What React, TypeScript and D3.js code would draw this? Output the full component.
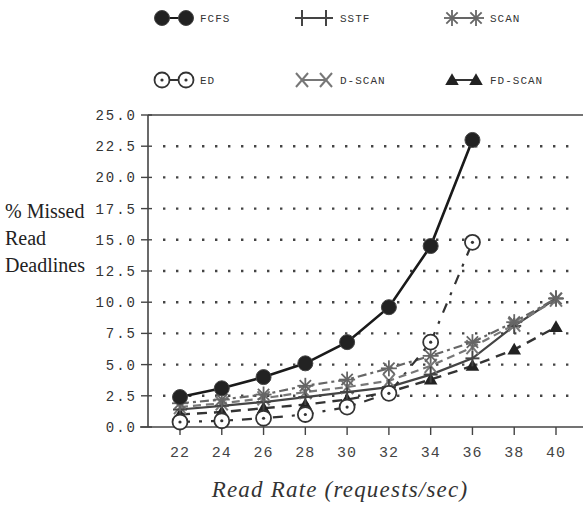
import React from "react";
import * as d3 from "d3";

const rates = [22, 24, 26, 28, 30, 32, 34, 36, 38, 40];
const yTicks = [0, 2.5, 5, 7.5, 10, 12.5, 15, 17.5, 20, 22.5, 25];

const fcfs = [2.4, 3.1, 4.0, 5.1, 6.8, 9.6, 14.5, 23.0];
const sstf = [1.4, 1.7, 2.0, 2.4, 2.8, 3.2, 4.2, 5.5, 8.1, 10.3];
const scan = [1.9, 2.2, 2.6, 3.3, 3.8, 4.7, 5.7, 6.8, 8.4, 10.3];
const ed = [0.4, 0.5, 0.7, 1.0, 1.6, 2.7, 6.8, 14.8];
const dscan = [1.6, 1.9, 2.3, 2.8, 3.2, 3.7, 4.9, 6.4, 8.2, 10.2];
const fdscan = [1.0, 1.2, 1.5, 1.8, 2.2, 2.8, 3.8, 4.9, 6.2, 8.0];

const seriesNames = ["FCFS", "SSTF", "SCAN", "ED", "D-SCAN", "FD-SCAN"];
const seriesValues = [fcfs, sstf, scan, ed, dscan, fdscan];

type Style = { color: string; width: number; dash: string; marker: string };
const styles: Style[] = [
  { color: "#1a1a1a", width: 2.6, dash: "", marker: "dot" },
  { color: "#444", width: 2.2, dash: "", marker: "plus" },
  { color: "#666", width: 2.2, dash: "9,4,3,4", marker: "star" },
  { color: "#333", width: 2.2, dash: "10,9,3,9", marker: "circle" },
  { color: "#777", width: 2.2, dash: "8,5", marker: "cross" },
  { color: "#333", width: 2.4, dash: "10,7", marker: "tri" },
];

function Marker({ kind, x, y, color }: { kind: string; x: number; y: number; color: string }) {
  if (kind === "dot") return <circle cx={x} cy={y} r={7.5} fill="#222" stroke="#444" strokeWidth={1} />;
  if (kind === "plus")
    return (
      <g stroke={color} strokeWidth={2}>
        <line x1={x - 7} x2={x + 7} y1={y} y2={y} />
        <line x1={x} x2={x} y1={y - 8} y2={y + 8} />
      </g>
    );
  if (kind === "star")
    return (
      <g stroke={color} strokeWidth={1.8}>
        {d3.range(4).map((i) => {
          const a = (i * Math.PI) / 4;
          return (
            <line key={i} x1={x - 8 * Math.cos(a)} x2={x + 8 * Math.cos(a)} y1={y - 8 * Math.sin(a)} y2={y + 8 * Math.sin(a)} />
          );
        })}
      </g>
    );
  if (kind === "circle")
    return (
      <g>
        <circle cx={x} cy={y} r={7.5} fill="white" stroke={color} strokeWidth={1.8} />
        <circle cx={x} cy={y} r={1.6} fill={color} />
      </g>
    );
  if (kind === "cross")
    return (
      <g stroke={color} strokeWidth={2}>
        <line x1={x - 6} x2={x + 6} y1={y - 7} y2={y + 7} />
        <line x1={x - 6} x2={x + 6} y1={y + 7} y2={y - 7} />
      </g>
    );
  const tri = d3.symbol(d3.symbolTriangle, 80)();
  return <path d={tri || ""} transform={`translate(${x},${y + 1})`} fill="#222" />;
}

export default function App() {
  const W = 583, H = 515;
  const x = d3.scaleLinear().domain([22, 40]).range([180, 556]);
  const y = d3.scaleLinear().domain([0, 25]).range([427, 115]);
  const mono = "'Liberation Mono', 'DejaVu Sans Mono', monospace";
  const serif = "'Liberation Serif', 'Times New Roman', serif";

  const legendPos = [
    [200, 18], [340, 18], [490, 18],
    [200, 80], [340, 80], [490, 80],
  ];

  return (
    <svg width={W} height={H} style={{ position: "absolute", left: 0, top: 0, background: "white" }}>
      {/* gridlines */}
      {yTicks.filter((t) => t > 0 && t < 25).map((t) => (
        <line key={t} x1={163} x2={578} y1={y(t)} y2={y(t)} stroke="#444" strokeWidth={2.4} strokeDasharray="2.4,10.6" />
      ))}
      {/* frame */}
      <line x1={148} x2={583} y1={y(25)} y2={y(25)} stroke="#444" strokeWidth={1.6} />
      <line x1={148} x2={148} y1={y(25)} y2={y(0)} stroke="#444" strokeWidth={1.6} />
      <line x1={140} x2={583} y1={y(0)} y2={y(0)} stroke="#444" strokeWidth={1.6} />
      {/* y ticks */}
      {yTicks.map((t) => (
        <g key={t}>
          <line x1={141} x2={152} y1={y(t)} y2={y(t)} stroke="#444" strokeWidth={1.4} />
          <text x={137} y={y(t)} dy="0.35em" textAnchor="end" fontFamily={mono} fontSize={14} letterSpacing={2} fill="#333">
            {t.toFixed(1)}
          </text>
        </g>
      ))}
      {/* x ticks */}
      {rates.map((r) => (
        <g key={r}>
          <line x1={x(r)} x2={x(r)} y1={y(0)} y2={y(0) + 8} stroke="#444" strokeWidth={1.4} />
          <text x={x(r)} y={452} dy="0.35em" textAnchor="middle" fontFamily={mono} fontSize={15} letterSpacing={1} fill="#444">
            {r}
          </text>
        </g>
      ))}
      {/* axis titles */}
      <text fontFamily={serif} fontSize={20} fill="#222">
        <tspan x={5} y={218}>% Missed</tspan>
        <tspan x={5} y={245}>Read</tspan>
        <tspan x={5} y={272}>Deadlines</tspan>
      </text>
      <text x={340} y={497} textAnchor="middle" fontFamily={serif} fontStyle="italic" fontSize={23} letterSpacing={1.2} fill="#333">
        Read  Rate (requests/sec)
      </text>
      {/* series lines */}
      {seriesValues.map((vals, i) => {
        const s = styles[i];
        const line = d3.line<number>().x((_, j) => x(rates[j])).y((v) => y(v));
        return (
          <path key={i} d={line(vals) || ""} fill="none" stroke={s.color} strokeWidth={s.width} strokeDasharray={s.dash || undefined} />
        );
      })}
      {/* markers */}
      {[5, 4, 1, 2, 3, 0].map((i) => (
        <g key={i}>
          {seriesValues[i].map((v, j) => (
            <Marker key={j} kind={styles[i].marker} x={x(rates[j])} y={y(v)} color={styles[i].color} />
          ))}
        </g>
      ))}
      {/* legend */}
      {seriesNames.map((n, i) => {
        const [lx, ly] = legendPos[i];
        const s = styles[i];
        return (
          <g key={n}>
            <line x1={lx - 38} x2={lx - 14} y1={ly} y2={ly} stroke={s.color} strokeWidth={2} />
            <Marker kind={s.marker} x={lx - 38} y={ly} color={s.color} />
            <Marker kind={s.marker} x={lx - 14} y={ly} color={s.color} />
            <text x={lx} y={ly} dy="0.35em" fontFamily={mono} fontSize={11} letterSpacing={1} fill="#333">
              {n}
            </text>
          </g>
        );
      })}
    </svg>
  );
}
